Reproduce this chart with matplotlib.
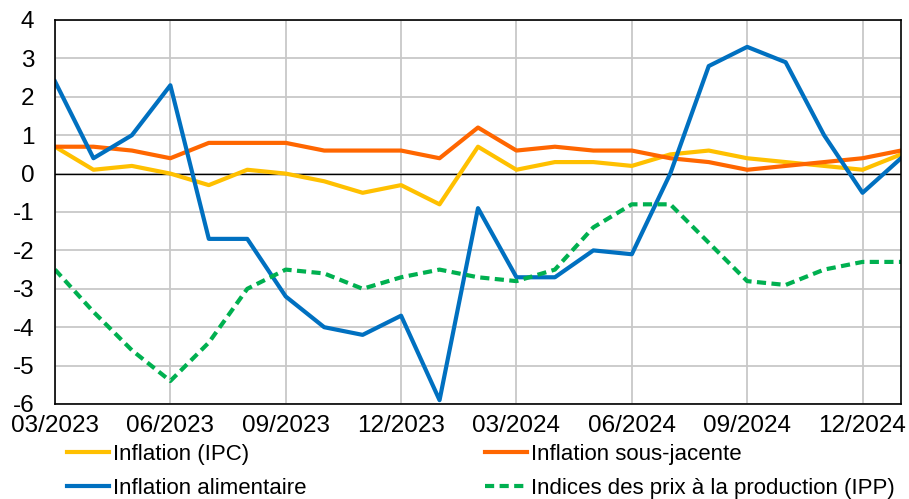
import matplotlib
matplotlib.use("Agg")
import matplotlib.pyplot as plt
import numpy as np

months = ["03/2023", "04/2023", "05/2023", "06/2023", "07/2023", "08/2023", "09/2023",
          "10/2023", "11/2023", "12/2023", "01/2024", "02/2024", "03/2024", "04/2024",
          "05/2024", "06/2024", "07/2024", "08/2024", "09/2024", "10/2024", "11/2024",
          "12/2024", "01/2025"]
ipc = [0.7, 0.1, 0.2, 0.0, -0.3, 0.1, 0.0, -0.2, -0.5, -0.3, -0.8, 0.7, 0.1, 0.3, 0.3,
       0.2, 0.5, 0.6, 0.4, 0.3, 0.2, 0.1, 0.5]
sous_jacente = [0.7, 0.7, 0.6, 0.4, 0.8, 0.8, 0.8, 0.6, 0.6, 0.6, 0.4, 1.2, 0.6, 0.7, 0.6,
                0.6, 0.4, 0.3, 0.1, 0.2, 0.3, 0.4, 0.6]
alimentaire = [2.4, 0.4, 1.0, 2.3, -1.7, -1.7, -3.2, -4.0, -4.2, -3.7, -5.9, -0.9, -2.7,
               -2.7, -2.0, -2.1, 0.0, 2.8, 3.3, 2.9, 1.0, -0.5, 0.4]
ipp = [-2.5, -3.6, -4.6, -5.4, -4.4, -3.0, -2.5, -2.6, -3.0, -2.7, -2.5, -2.7, -2.8, -2.5,
       -1.4, -0.8, -0.8, -1.8, -2.8, -2.9, -2.5, -2.3, -2.3]
tick_labels = ["03/2023", "06/2023", "09/2023", "12/2023", "03/2024", "06/2024", "09/2024", "12/2024"]

plt.rcParams['font.family'] = ['Liberation Sans', 'DejaVu Sans']
plt.rcParams['axes.unicode_minus'] = False

fig = plt.figure(figsize=(9.09, 4.99), dpi=100)
ax = fig.add_axes([55/909, 1 - 404/499, 846/909, 384/499])

x = np.arange(len(months))
lw = 3.0
l1, = ax.plot(x, ipc, color="#FFC000", lw=lw, label="Inflation (IPC)")
l2, = ax.plot(x, sous_jacente, color="#FF6600", lw=lw, label="Inflation sous-jacente")
l3, = ax.plot(x, alimentaire, color="#0070C0", lw=lw, label="Inflation alimentaire")
l4, = ax.plot(x, ipp, color="#00B050", lw=lw, ls=(0, (2.2, 1.3)),
              label="Indices des prix à la production (IPP)")

ax.set_xlim(0, len(months) - 1)
ax.set_ylim(-6, 4)
ax.set_yticks(range(-6, 5))
tick_pos = [months.index(m) for m in tick_labels]
ax.set_xticks(tick_pos)
ax.set_xticklabels(tick_labels)
ax.grid(True, color="#C8C8C8", lw=1.3)
ax.set_axisbelow(True)
ax.axhline(0, color="black", lw=1.0, zorder=1.5)
ax.tick_params(length=0, labelsize=17.5)
ax.tick_params(axis="y", pad=15)
ax.tick_params(axis="x", pad=8)
for s in ax.spines.values():
    s.set_color("black")
    s.set_linewidth(1.2)

common = dict(frameon=False, fontsize=16, handlelength=1.89, handletextpad=0.18,
              labelspacing=0.59, borderpad=0, borderaxespad=0, loc="upper left")
fig.legend(handles=[l1, l3], labels=[l1.get_label(), l3.get_label()],
           bbox_to_anchor=(67/909, 1 - 444/499), **common)
fig.legend(handles=[l2, l4], labels=[l2.get_label(), l4.get_label()],
           bbox_to_anchor=(485/909, 1 - 444/499), **common)

fig.savefig("out.png", dpi=100)
